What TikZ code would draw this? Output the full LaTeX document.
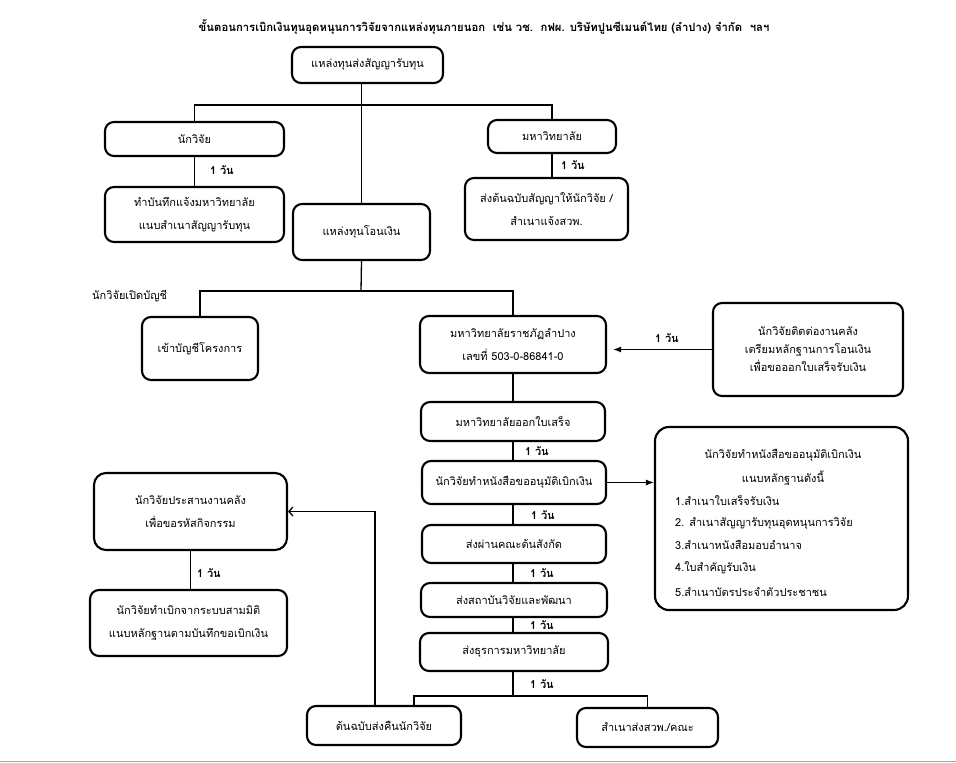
\documentclass[tikz,border=0pt]{standalone}
\usepackage{fontspec}
\newfontfamily\thai[Script=Thai]{Loma}
\usetikzlibrary{arrows.meta,calc}
\begin{document}
\begin{tikzpicture}[x=1pt,y=-1pt,
  box/.style={draw, line width=2.1pt, rounded corners=9pt, align=center, inner sep=0pt,
    font=\thai\fontsize{11}{23}\selectfont},
  conn/.style={line width=1.3pt},
  arr/.style={conn, -{Latex[length=8pt,width=6pt]}},
  openarr/.style={conn, -{Straight Barb[length=4pt,width=9pt]}},
  day/.style={font=\thai\bfseries\fontsize{11}{13}\selectfont, inner sep=0pt},
  txt/.style={font=\thai\fontsize{11}{13}\selectfont, inner sep=0pt},
]
\useasboundingbox (0,0) rectangle (956,763);

\node[font=\thai\bfseries\fontsize{11.3}{13}\selectfont, inner sep=0pt] (title) at (484,27)
  {ขั้นตอนการเบิกเงินทุนอุดหนุนการวิจัยจากแหล่งทุนภายนอก\ \ เช่น วช.\ \ กฟผ. บริษัทปูนซีเมนต์ไทย (ลำปาง) จำกัด\ \ ฯลฯ};

\node[box, minimum width=151, minimum height=36] (A) at (367.5,65) {แหล่งทุนส่งสัญญารับทุน};
\node[box, minimum width=179, minimum height=34] (N1) at (194.5,139) {นักวิจัย};
\node[box, minimum width=179, minimum height=55] (N2) at (194.5,214.5) {ทำบันทึกแจ้งมหาวิทยาลัย\\แนบสำเนาสัญญารับทุน};
\node[box, minimum width=128, minimum height=33] (U1) at (552,136.5) {มหาวิทยาลัย};
\node[box, minimum width=163, minimum height=62] (U2) at (546.5,209) {ส่งต้นฉบับสัญญาให้นักวิจัย /\\สำเนาแจ้งสวพ.};
\node[box, minimum width=137, minimum height=56] (T) at (361.5,232) {แหล่งทุนโอนเงิน};
\node[box, minimum width=116, minimum height=63] (K) at (200,348.5) {เข้าบัญชีโครงการ};
\node[box, minimum width=186, minimum height=57] (R) at (513,344.5) {มหาวิทยาลัยราชภัฏลำปาง\\เลขที่ 503-0-86841-0};
\node[box, minimum width=190, minimum height=93, font=\thai\fontsize{11}{18}\selectfont] (C) at (808,349.5) {นักวิจัยติดต่องานคลัง\\เตรียมหลักฐานการโอนเงิน\\เพื่อขอออกใบเสร็จรับเงิน};
\node[box, minimum width=184, minimum height=39] (O) at (513,421.5) {มหาวิทยาลัยออกใบเสร็จ};
\node[box, minimum width=184, minimum height=43] (P) at (514,482.5) {นักวิจัยทำหนังสือขออนุมัติเบิกเงิน};
\node[box, minimum width=184, minimum height=38] (S1) at (514,544) {ส่งผ่านคณะต้นสังกัด};
\node[box, minimum width=186, minimum height=34] (S2) at (514,600) {ส่งสถาบันวิจัยและพัฒนา};
\node[box, minimum width=188, minimum height=38] (S3) at (514,652) {ส่งธุรการมหาวิทยาลัย};
\node[box, minimum width=253, minimum height=183, rounded corners=14pt] (B) at (781.5,518.5) {};
\node[box, minimum width=193, minimum height=77, rounded corners=12pt] (L1) at (190.5,511.5) {นักวิจัยประสานงานคลัง\\เพื่อขอรหัสกิจกรรม};
\node[box, minimum width=197, minimum height=66] (L2) at (188.5,623) {นักวิจัยทำเบิกจากระบบสามมิติ\\แนบหลักฐานตามบันทึกขอเบิกเงิน};
\node[box, minimum width=154, minimum height=39] (F) at (384,725.5) {ต้นฉบับส่งคืนนักวิจัย};
\node[box, minimum width=141, minimum height=39] (G) at (647.5,727.5) {สำเนาส่งสวพ./คณะ};

% text inside B
\node[txt] (B1) at (783,455) {นักวิจัยทำหนังสือขออนุมัติเบิกเงิน};
\node[txt] (B2) at (783,478) {แนบหลักฐานดังนี้};
\node[txt, anchor=west] (B3) at (675,500) {1.สำเนาใบเสร็จรับเงิน};
\node[txt, anchor=west] (B4) at (675,523) {2. สำเนาสัญญารับทุนอุดหนุนการวิจัย};
\node[txt, anchor=west] (B5) at (675,545) {3.สำเนาหนังสือมอบอำนาจ};
\node[txt, anchor=west] (B6) at (675,568) {4.ใบสำคัญรับเงิน};
\node[txt, anchor=west] (B7) at (675,592) {5.สำเนาบัตรประจำตัวประชาชน};

\node[txt, anchor=west] (open) at (92,296) {นักวิจัยเปิดบัญชี};

% day labels
\node[day] (d1) at (222,170) {1 วัน};
\node[day] (d2) at (573,165) {1 วัน};
\node[day] (d3) at (667,338) {1 วัน};
\node[day] (d4) at (537,451) {1 วัน};
\node[day] (d5) at (543,515) {1 วัน};
\node[day] (d6) at (542,573) {1 วัน};
\node[day] (d7) at (542,625) {1 วัน};
\node[day] (d8) at (542,684) {1 วัน};
\node[day] (d9) at (209,573) {1 วัน};

% junction coordinates
\coordinate (b1) at (361,105);
\coordinate (b2) at (361,291);
\coordinate (b3) at (513,696);
\coordinate (fL) at (414,696);

% connectors
\draw[conn] (A.south -| T.north) -- (T.north);
\draw[conn] (N1.north) -- (N1.north |- b1) -- (U1.north |- b1) -- (U1.north);
\draw[conn] (N1.south) -- (N2.north);
\draw[conn] (U1.south) -- (U1.south |- U2.north);
\draw[conn] (T.south) -- (b2);
\draw[conn] (K.north) -- (K.north |- b2) -- (R.north |- b2) -- (R.north);
\draw[arr, shorten >=6pt] (C.west) -- (C.west -| R.east);
\draw[conn] (R.south) -- (R.south |- O.north);
\draw[conn] (O.south) -- (O.south |- P.north);
\draw[conn] (P.south -| b3) -- (S1.north -| b3);
\draw[conn] (S1.south -| b3) -- (S2.north -| b3);
\draw[conn] (S2.south -| b3) -- (S3.north -| b3);
\draw[arr] (P.east) -- (P.east -| B.west);
\draw[conn] (S3.south -| b3) -- (b3);
\draw[conn] (fL |- F.north) -- (fL) -- (G.north |- b3) -- (G.north);
\draw[openarr] ($(F.north)+(-9,0)$) |- (L1.east);
\draw[conn] (L1.south) -- (L1.south |- L2.north);

\draw[gray!70, line width=1pt] (0,761) -- (956,761);
\end{tikzpicture}
\end{document}
